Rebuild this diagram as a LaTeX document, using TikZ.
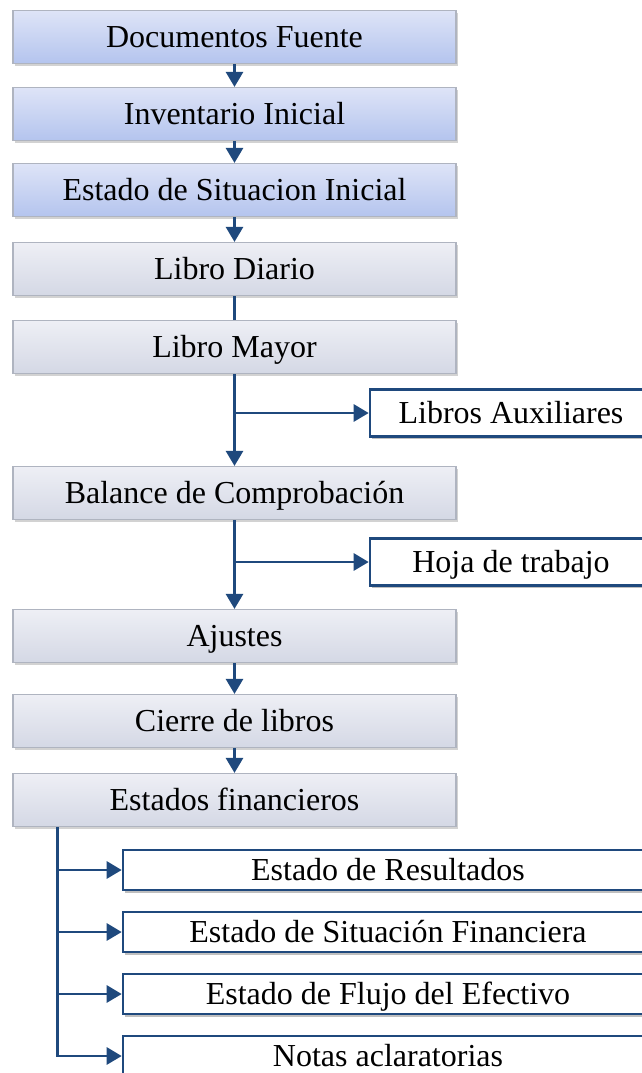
\documentclass[tikz,border=0pt]{standalone}
\usepackage{fontspec}
\setmainfont{Liberation Serif}
\usetikzlibrary{arrows.meta,shadows,positioning}

\definecolor{flujoazul}{RGB}{31,73,125}
\definecolor{bordegris}{RGB}{175,180,192}
\definecolor{azularriba}{RGB}{222,228,247}
\definecolor{azulabajo}{RGB}{180,196,238}
\definecolor{grisarriba}{RGB}{238,239,245}
\definecolor{grisabajo}{RGB}{212,216,229}

\tikzset{
    pasoazul/.style={draw=bordegris, line width=0.6pt, top color=azularriba, bottom color=azulabajo,
        minimum width=221.5pt, minimum height=26.5pt, inner sep=0pt,
        text height=12pt, text depth=1.4pt,
        drop shadow={opacity=0.35, shadow xshift=0.8pt, shadow yshift=-1.2pt},
        font=\fontsize{16}{19}\selectfont},
    pasogris/.style={pasoazul, top color=grisarriba, bottom color=grisabajo},
    ramal/.style={draw=flujoazul, line width=1.3pt, fill=white,
        minimum width=141pt, minimum height=23.5pt, inner sep=0pt,
        text height=12pt, text depth=1.4pt,
        drop shadow={opacity=0.5, shadow xshift=1pt, shadow yshift=-1.4pt},
        font=\fontsize{16}{19}\selectfont},
    estado/.style={ramal, minimum width=265pt, minimum height=20pt},
    flecha/.style={draw=flujoazul, line width=1.4pt, -{Triangle[width=8.5pt,length=7.5pt]}},
    linea/.style={draw=flujoazul, line width=1.4pt}
}

\begin{document}
\begin{tikzpicture}[x=0.5pt,y=0.5pt]
    \useasboundingbox (0,0) rectangle (642,-1073);
    \fill[white] (0,0) rectangle (642,-1073);

    % pasos del ciclo
    \node[pasoazul] (docs) at (234.5,-37) {Documentos Fuente};
    \node[pasoazul] (inv) at (234.5,-114) {Inventario Inicial};
    \node[pasoazul] (esi) at (234.5,-190) {Estado de Situacion Inicial};
    \node[pasogris] (diario) at (234.5,-269) {Libro Diario};
    \node[pasogris] (mayor) at (234.5,-347) {Libro Mayor};
    \node[pasogris] (balance) at (234.5,-493) {Balance de Comprobación};
    \node[pasogris] (ajustes) at (234.5,-636) {Ajustes};
    \node[pasogris] (cierre) at (234.5,-721) {Cierre de libros};
    \node[pasogris] (ef) at (234.5,-800) {Estados financieros};

    % ramales
    \node[ramal] (aux) at (511,-413) {Libros Auxiliares};
    \node[ramal] (hoja) at (511,-562) {Hoja de trabajo};

    % estados financieros
    \node[estado] (res) at (388,-870) {Estado de Resultados};
    \node[estado] (sit) at (388,-932) {Estado de Situación Financiera};
    \node[estado] (flujo) at (388,-994) {Estado de Flujo del Efectivo};
    \node[estado] (notas) at (388,-1056) {Notas aclaratorias};

    % conectores
    \draw[flecha] (docs) -- (inv);
    \draw[flecha] (inv) -- (esi);
    \draw[flecha] (esi) -- (diario);
    \draw[linea] (diario) -- (mayor);
    \draw[flecha] (mayor) -- (balance);
    \draw[flecha] (mayor.south |- aux) -- (aux.west);
    \draw[flecha] (balance) -- (ajustes);
    \draw[flecha] (balance.south |- hoja) -- (hoja.west);
    \draw[flecha] (ajustes) -- (cierre);
    \draw[flecha] (cierre) -- (ef);

    \coordinate (eftronco) at ([xshift=22.5pt]ef.south west);
    \draw[flecha] (eftronco) |- (notas.west);
    \foreach \n in {res,sit,flujo} {
        \draw[flecha] (eftronco |- \n) -- (\n.west);
    }
\end{tikzpicture}
\end{document}
